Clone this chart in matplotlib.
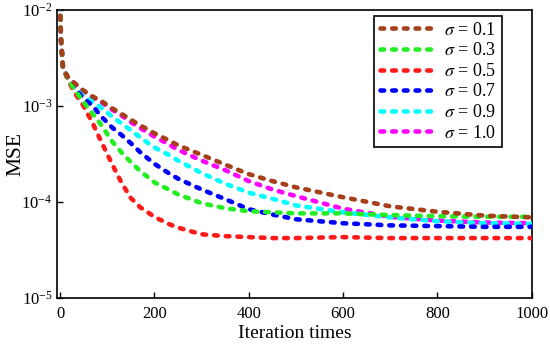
import numpy as np
import matplotlib
matplotlib.use("Agg")
import matplotlib.pyplot as plt

plt.rcParams['font.family'] = ['Liberation Serif', 'DejaVu Serif']
plt.rcParams['mathtext.fontset'] = 'stix'

# iteration axis (shared by all curves)
iters = [0, 2, 6, 15, 30, 50, 70, 85, 110, 130, 150, 170, 200, 230, 250, 300, 350, 400,
         450, 500, 600, 700, 800, 900, 1000]

# MSE curves
mse_01 = [1.15e-2, 5e-3, 2.6e-3, 2.05e-3, 1.75e-3, 1.45e-3, 1.25e-3, 1.15e-3, 9.5e-4, 8.3e-4, 7.2e-4, 6.3e-4, 5.2e-4,
          4.4e-4, 3.9e-4, 3.1e-4, 2.45e-4, 1.95e-4, 1.65e-4, 1.42e-4, 1.12e-4, 9e-5, 7.9e-5, 7.2e-5, 6.9e-5]
mse_03 = [1.15e-2, 5e-3, 2.6e-3, 2.0e-3, 1.5e-3, 1.1e-3, 8.2e-4, 6.6e-4, 4.3e-4, 3.3e-4, 2.6e-4, 2.1e-4, 1.6e-4,
          1.35e-4, 1.2e-4, 9.7e-5, 8.6e-5, 8e-5, 7.8e-5, 7.6e-5, 7.6e-5, 7.3e-5, 7.1e-5, 7e-5, 7e-5]
mse_05 = [1.15e-2, 5e-3, 2.6e-3, 1.95e-3, 1.4e-3, 1e-3, 6.5e-4, 4.5e-4, 2.5e-4, 1.6e-4, 1.1e-4, 8.8e-5, 7e-5,
          5.9e-5, 5.4e-5, 4.6e-5, 4.4e-5, 4.3e-5, 4.2e-5, 4.2e-5, 4.3e-5, 4.2e-5, 4.2e-5, 4.2e-5, 4.2e-5]
mse_07 = [1.15e-2, 5e-3, 2.6e-3, 2.0e-3, 1.55e-3, 1.2e-3, 1.0e-3, 8e-4, 6e-4, 5e-4, 4.1e-4, 3.3e-4, 2.5e-4,
          2e-4, 1.75e-4, 1.35e-4, 1.07e-4, 8.4e-5, 7.4e-5, 6.6e-5, 6e-5, 5.7e-5, 5.6e-5, 5.5e-5, 5.5e-5]
mse_09 = [1.15e-2, 5e-3, 2.6e-3, 2.0e-3, 1.6e-3, 1.28e-3, 1.1e-3, 9.8e-4, 7.8e-4, 6.6e-4, 5.6e-4, 4.7e-4, 3.7e-4,
          3.1e-4, 2.7e-4, 2e-4, 1.55e-4, 1.25e-4, 1.08e-4, 9.2e-5, 7.8e-5, 6.9e-5, 6.3e-5, 6e-5, 5.9e-5]
mse_10 = [1.15e-2, 5e-3, 2.6e-3, 2.05e-3, 1.72e-3, 1.42e-3, 1.22e-3, 1.12e-3, 9.2e-4, 8e-4, 6.8e-4, 5.9e-4, 4.8e-4,
          4e-4, 3.5e-4, 2.7e-4, 2.15e-4, 1.65e-4, 1.35e-4, 1.15e-4, 8.5e-5, 7e-5, 6.4e-5, 6.1e-5, 6e-5]

labels = [r'$\sigma$ = 0.1 ', r'$\sigma$ = 0.3 ', r'$\sigma$ = 0.5 ',
          r'$\sigma$ = 0.7 ', r'$\sigma$ = 0.9 ', r'$\sigma$ = 1.0 ']
series = [mse_01, mse_03, mse_05, mse_07, mse_09, mse_10]
colors = ['#A5401A', '#22EE22', '#FF1A1A', '#0000FF', '#00FFFF', '#FF00FF']

fig = plt.figure(figsize=(5.5, 3.5), dpi=100)
ax = fig.add_axes([0.104, 0.149, 0.863, 0.822])

for i, (y, lab, c) in enumerate(zip(series, labels, colors)):
    ax.semilogy(iters, y, color=c, lw=3.3, dashes=(0.8, 1.75),
                dash_capstyle='round', label=lab, zorder=10 - i)

ax.set_xlim(-6, 1000)
ax.set_ylim(1e-5, 1e-2)
ax.set_xticks([0, 200, 400, 600, 800, 1000])
ax.set_yticks([1e-5, 1e-4, 1e-3, 1e-2])
ax.minorticks_off()
ax.tick_params(direction='in', length=4, width=1, labelsize=12)
ax.tick_params(axis='x', pad=6)
for s in ax.spines.values():
    s.set_linewidth(1.2)

ax.set_xlabel('Iteration times', fontsize=14, labelpad=2)
ax.set_ylabel('MSE', fontsize=15.5, labelpad=-3)

leg = ax.legend(loc='upper right', bbox_to_anchor=(0.937, 0.979), fontsize=13,
                frameon=True, fancybox=False, framealpha=1, edgecolor='black',
                handlelength=3.2, labelspacing=0.2, borderaxespad=0,
                handletextpad=0.35, borderpad=0.3)
leg.get_frame().set_linewidth(1.2)

plt.savefig('out.png', dpi=100)
